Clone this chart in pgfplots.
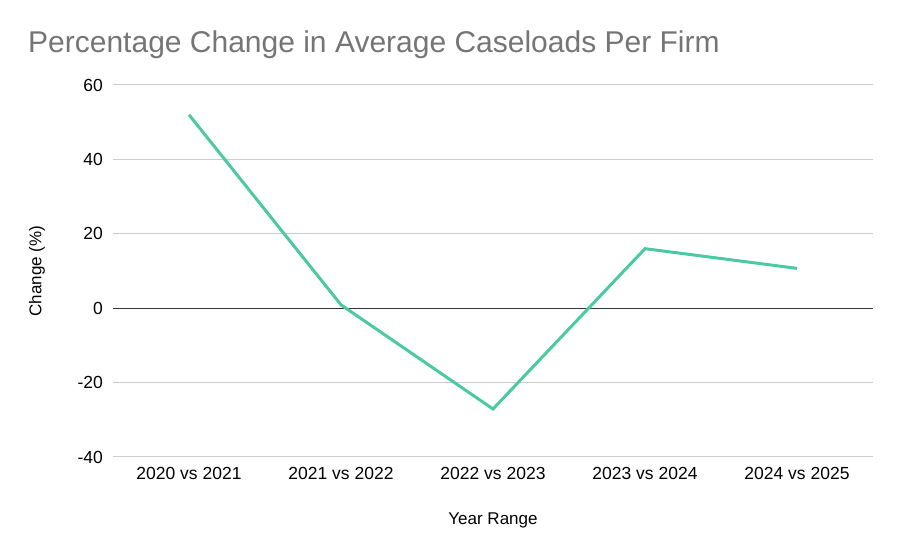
\documentclass[border=0pt]{standalone}
\usepackage{pgfplots}
\pgfplotsset{compat=1.18}
\usepackage{fontspec}
\setmainfont{Liberation Sans}
\definecolor{linec}{HTML}{4BC9A2}
\definecolor{titlec}{HTML}{757575}
\definecolor{gridc}{HTML}{CCCCCC}
\begin{document}
\begin{tikzpicture}[x=1bp,y=1bp]
\path[use as bounding box] (0,0) rectangle (901,558);
\node[anchor=base west, text=titlec, inner sep=0pt, font=\fontsize{30bp}{36bp}\selectfont] at (28,505) {Percentage Change in Average Caseloads Per Firm};
\begin{axis}[
    at={(113bp,101bp)}, anchor=south west,
    scale only axis, width=760bp, height=372bp,
    xmin=-0.5, xmax=4.5, ymin=-40, ymax=60,
    xtick={0,1,2,3,4},
    xticklabels={2020 vs 2021, 2021 vs 2022, 2022 vs 2023, 2023 vs 2024, 2024 vs 2025},
    ytick={-40,-20,0,20,40,60},
    axis line style={draw=none},
    major tick length=0pt,
    ymajorgrids, grid style={gridc, line width=1bp},
    /pgf/number format/assume math mode=true,
    tick label style={font=\fontsize{17.5bp}{21bp}\selectfont, inner sep=0pt},
    xticklabel style={anchor=north, yshift=-10bp},
    yticklabel style={anchor=east, xshift=-10bp},
    label style={font=\fontsize{17bp}{20bp}\selectfont},
    xlabel={Year Range},
    xlabel style={at={(axis description cs:0.5,0)}, anchor=center, yshift=-63bp},
    ylabel={Change (\%)},
    ylabel style={at={(axis description cs:-0.1,0.5)}, anchor=center},
    clip=false,
]
\addplot[black!80, line width=1.3bp, forget plot] coordinates {(-0.5,0) (4.5,0)};
\addplot[linec, line width=3bp, mark=none] coordinates {
    (0,52)
    (1,0.9)
    (2,-27.1)
    (3,16.0)
    (4,10.7)
};
\end{axis}
\end{tikzpicture}
\end{document}
